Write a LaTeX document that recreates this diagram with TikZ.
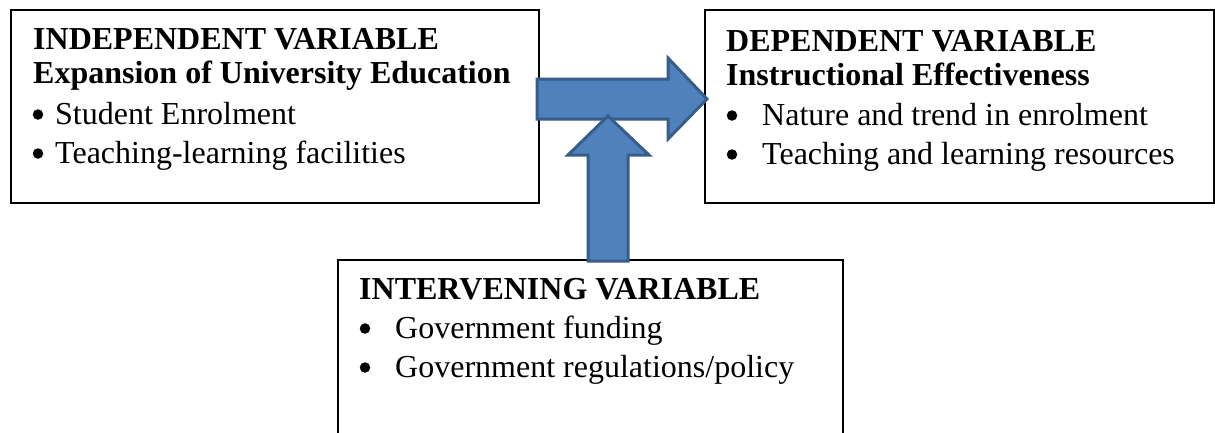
\documentclass[tikz,border=0pt]{standalone}
\usepackage{fontspec}
\setmainfont{Liberation Serif}
\usetikzlibrary{calc}
\definecolor{arrowfill}{HTML}{4F81BD}
\definecolor{arrowline}{HTML}{385D8A}
\begin{document}
\begin{tikzpicture}[x=1pt,y=-1pt,
  box/.style={draw=black,line width=1.5pt,fill=white,inner sep=0pt,anchor=north west},
  txt/.style={anchor=base west,inner sep=0pt,font=\fontsize{32}{38}\selectfont},
  head/.style={anchor=base west,inner sep=0pt,font=\fontsize{32}{38}\selectfont\bfseries},
  bul/.style={circle,fill=black,inner sep=0pt,minimum size=10.5pt},
  bigarrow/.style={fill=arrowfill,draw=arrowline,line width=3pt,line join=miter}]
\useasboundingbox (0,0) rectangle (1215,432);
\clip (0,0) rectangle (1215,432);
\fill[white] (0,0) rectangle (1215,432);
% boxes
\node[box,minimum width=528pt,minimum height=193pt] (ind) at (10,9) {};
\node[box,minimum width=509pt,minimum height=193pt] (dep) at (704,9) {};
\node[box,minimum width=505pt,minimum height=190pt] (int) at (337,259) {};
% independent variable text
\node[head] (ihead) at (33,49) {INDEPENDENT VARIABLE};
\node[head] (isub) at (33,83) {Expansion of University Education};
\node[bul] (ib1) at (38,114.5) {};
\node[txt] (ii1) at (55,124) {Student Enrolment};
\node[bul] (ib2) at (38,153.5) {};
\node[txt] (ii2) at (55,163) {Teaching-learning facilities};
% dependent variable text
\node[head] (dhead) at (726,51) {DEPENDENT VARIABLE};
\node[head] (dsub) at (726,85) {Instructional Effectiveness};
\node[bul] (db1) at (732,115.5) {};
\node[txt] (di1) at (762,125) {Nature and trend in enrolment};
\node[bul] (db2) at (732,154.5) {};
\node[txt] (di2) at (762,164) {Teaching and learning resources};
% intervening variable text
\node[head] (nhead) at (359,299) {INTERVENING VARIABLE};
\node[bul] (nb1) at (365,328.5) {};
\node[txt] (ni1) at (395,338) {Government funding};
\node[bul] (nb2) at (365,367.5) {};
\node[txt] (ni2) at (395,377) {Government regulations/policy};
% arrows
\coordinate (htail) at (537,99);
\coordinate (htip) at (707,99);
\coordinate (vtail) at (608,261);
\coordinate (vtip) at (608,116);
\draw[bigarrow] ($(htail)+(0,-20)$) -- (668,79) -- (668,58) -- (htip) -- (668,139) -- (668,119) -- ($(htail)+(0,20)$) -- cycle;
\draw[bigarrow] (vtip) -- (649,155) -- (628,155) -- ($(vtail)+(20,0)$) -- ($(vtail)+(-20,0)$) -- (588,155) -- (568,155) -- cycle;
\end{tikzpicture}
\end{document}
